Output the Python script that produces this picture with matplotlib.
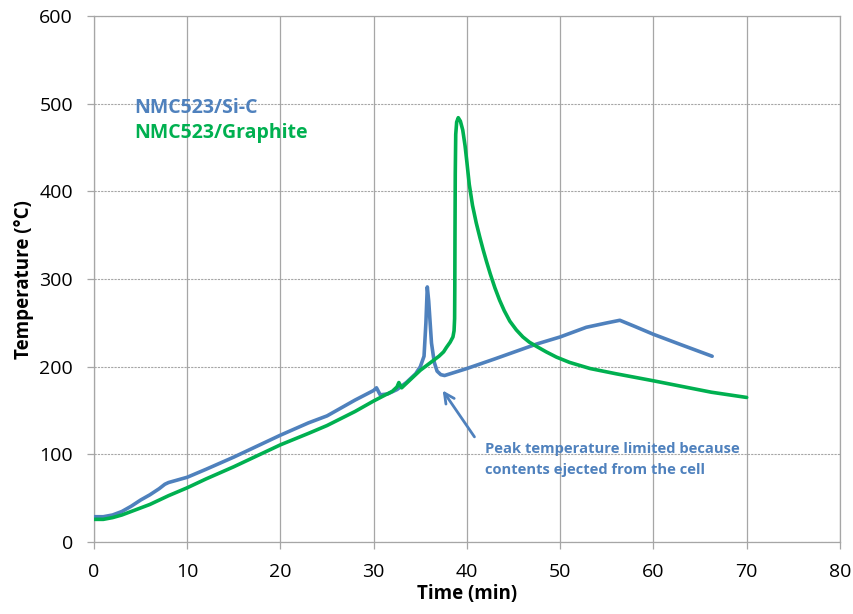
import numpy as np
import matplotlib.pyplot as plt
from matplotlib.patches import Rectangle

# NMC523/Si-C (blue)
sic_time = [0, 1, 2, 3, 4, 5, 6, 7, 7.6, 8, 9, 10, 12, 15, 18, 20, 23, 25, 28, 30, 30.3,
            30.7, 31.5, 32.5, 33.5, 34.5, 35, 35.4, 35.6, 35.75, 35.9, 36.2, 36.5, 36.8,
            37.2, 37.6, 40, 43, 47.5, 50, 52.8, 55, 56.4, 58, 60, 63, 66.3]
sic_temp = [29, 29, 31, 35, 41, 48, 54, 61, 66, 68, 71, 74, 83, 97, 112, 122, 136, 144, 162, 173, 176,
            168, 169, 174, 182, 192, 200, 212, 250, 291, 275, 227, 205, 195,
            191, 190, 198, 209, 226, 234, 245, 250, 253, 246, 237, 225, 212]

# NMC523/Graphite (green)
gr_time = [0, 1, 2, 3, 4, 5, 6, 8, 10, 12, 15, 18, 20, 23, 25, 28, 30, 32, 32.5, 32.7,
           33, 34, 35, 36, 37, 37.5, 37.8, 38.2, 38.5, 38.62, 38.68, 38.7, 38.72, 38.75,
           38.8, 38.9, 39.07, 39.3, 39.55, 39.8, 40.0, 40.25, 40.6, 41.0, 41.4, 41.75,
           42.1, 42.5, 43.0, 43.5, 44.0, 44.6, 45.3, 46.0, 46.7, 47.5, 48.5, 49.6, 51,
           53.2, 56, 60, 66.2, 70]
gr_temp = [26, 26, 28, 31, 35, 39, 43, 53, 62, 72, 86, 101, 111, 124, 133, 149, 161, 172, 177, 182,
           176, 186, 196, 204, 212, 217, 222, 228, 234, 241, 255, 290, 350, 420,
           465, 479, 484, 480, 470, 452, 433, 408, 384, 364, 347, 333,
           320, 306, 290, 276, 264, 252, 242, 234, 228, 223, 217, 211, 205,
           198, 192, 184, 171, 165]

blue = '#4F81BD'
green = '#00B050'
grid_c = '#A6A6A6'

plt.rcParams['font.family'] = ['Open Sans', 'DejaVu Sans']

fig = plt.figure(figsize=(8.54, 6.14), dpi=100)
ax = fig.add_axes([0.110, 0.117, 0.8735, 0.857])

ax.plot(sic_time, sic_temp, color=blue, lw=2.6, solid_joinstyle='round',
        solid_capstyle='round', zorder=3)
ax.plot(gr_time, gr_temp, color=green, lw=2.6, solid_joinstyle='round',
        solid_capstyle='round', zorder=3)

ax.set_xlim(0, 80)
ax.set_ylim(0, 600)
ax.set_xticks(np.arange(0, 81, 10))
ax.set_yticks(np.arange(0, 601, 100))

ax.grid(axis='x', color=grid_c, lw=0.9, ls='-', zorder=0)
ax.grid(axis='y', color=grid_c, lw=0.8, ls=(0, (2, 1)), zorder=0)
for s in ax.spines.values():
    s.set_color(grid_c)
    s.set_linewidth(0.9)
ax.tick_params(axis='both', colors=grid_c, labelcolor='black', labelsize=14,
               length=5, width=0.9, pad=10)

ax.set_xlabel('Time (min)', fontsize=13.5, fontweight='bold', labelpad=2)
ax.set_ylabel('Temperature (°C)', fontsize=13.5, fontweight='bold', labelpad=4)

# white boxes behind the labels (they hide the gridlines)
ax.add_patch(Rectangle((3.5, 441), 23.1, 82, facecolor='white', edgecolor='none', zorder=1))
ax.add_patch(Rectangle((40.1, 59), 30.0, 71, facecolor='white', edgecolor='none', zorder=1))

ax.text(4.3, 495, 'NMC523/Si-C', color=blue, fontsize=14, fontweight='bold',
        va='center', ha='left', zorder=2)
ax.text(4.3, 467, 'NMC523/Graphite', color=green, fontsize=14, fontweight='bold',
        va='center', ha='left', zorder=2)

ax.annotate('Peak temperature limited because\ncontents ejected from the cell',
            xy=(37.4, 173), xytext=(41.9, 94), color=blue, fontsize=10.6, fontweight='bold',
            ha='left', va='center', linespacing=1.65, zorder=4,
            arrowprops=dict(arrowstyle='->', color=blue, lw=2, mutation_scale=18,
                            shrinkA=0, shrinkB=0, relpos=(-0.04, 1.15)))

fig.savefig('out.png', dpi=100)
